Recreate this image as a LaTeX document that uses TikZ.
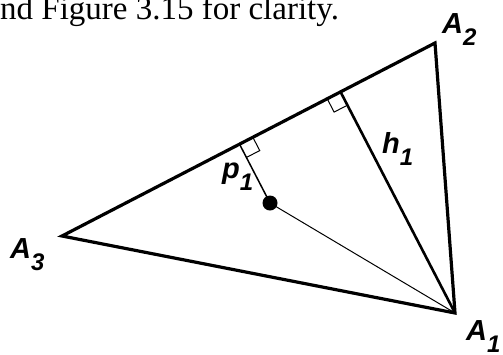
\documentclass[tikz,border=0pt]{standalone}
\usepackage{fontspec}
\setmainfont{Liberation Serif}
\newfontfamily\lblfont{Liberation Sans}
\usetikzlibrary{calc}

% vertex / segment label: letter with a large lowered index
\newcommand{\vlabel}[2]{{\lblfont\bfseries\itshape\fontsize{29}{29}\selectfont
  #1\raisebox{-12pt}{\fontsize{24}{24}\selectfont #2}}}

\begin{document}
\begin{tikzpicture}[x=1pt, y=-1pt,
  side/.style={line width=3.2pt, line join=miter},
  rmark/.style={line width=1pt},
  lbl/.style={anchor=base west, inner sep=0pt}]
\useasboundingbox (0,0) rectangle (503,354);

\node[lbl, font=\fontsize{33}{33}\selectfont] (caption) at (0,19)
  {nd Figure 3.15 for clarity.};

\coordinate (A1) at (455,313);
\coordinate (A2) at (435,43);
\coordinate (A3) at (62,236);
\coordinate (P) at (270,203);
\coordinate (H) at ($(A3)!(A1)!(A2)$);
\coordinate (F) at ($(A3)!(P)!(A2)$);

% triangle
\draw[side] (A1) -- (A2) -- (A3) -- cycle;

% altitude and distance from the point
\draw[line width=2.6pt] (A1) -- (H);
\draw[line width=1.5pt] (P) -- (F);
\draw[line width=1pt] (A1) -- (P);
\fill (P) circle (7.5);

% right angle marks
\coordinate (Ha) at ($(H)!15pt!(A3)$);
\coordinate (Hb) at ($(H)!15pt!(A1)$);
\draw[rmark] (Ha) -- ($(Ha)+(Hb)-(H)$) -- (Hb);
\coordinate (Fa) at ($(F)!15pt!(A2)$);
\coordinate (Fb) at ($(F)!15pt!(P)$);
\draw[rmark] (Fa) -- ($(Fa)+(Fb)-(F)$) -- (Fb);

% labels
\node[lbl] (lA1) at (466,340) {\vlabel{A}{1}};
\node[lbl] (lA2) at (442,33) {\vlabel{A}{2}};
\node[lbl] (lA3) at (10,258) {\vlabel{A}{3}};
\node[lbl] (lh) at (382,153) {\vlabel{h}{1}};
\node[lbl] (lp) at (222,178) {\vlabel{p}{1}};
\end{tikzpicture}
\end{document}
